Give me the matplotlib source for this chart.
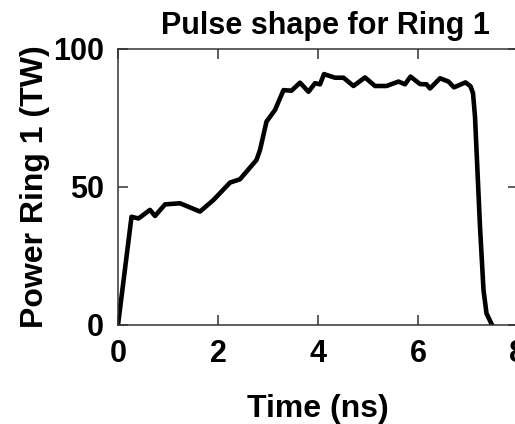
import matplotlib
matplotlib.use("Agg")
import matplotlib.pyplot as plt

plt.rcParams["font.family"] = ["Liberation Sans", "DejaVu Sans"]
plt.rcParams["font.weight"] = "bold"

# ── Pulse data ────────────────────────────────────────
time_ns = [0.0, 0.27, 0.41, 0.64, 0.74, 0.94, 1.24, 1.64, 1.91, 2.24, 2.44,
           2.77, 2.84, 2.97, 3.14, 3.31, 3.47, 3.64, 3.81, 3.94, 4.04, 4.12,
           4.34, 4.51, 4.71, 4.94, 5.14, 5.37, 5.61, 5.74, 5.85, 6.04, 6.17,
           6.24, 6.44, 6.61, 6.72, 6.95, 7.05, 7.1, 7.14, 7.24, 7.31, 7.37, 7.47]
power_tw = [0.0, 39.2, 38.6, 41.7, 39.5, 43.7, 44.1, 41.1, 45.3, 51.6, 52.8,
            59.8, 63.4, 73.7, 77.9, 85.1, 84.9, 87.8, 84.5, 87.6, 87.2, 90.9,
            89.6, 89.6, 86.6, 89.7, 86.6, 86.6, 88.2, 87.2, 90.0, 87.3, 87.2,
            85.7, 89.4, 88.2, 86.1, 87.9, 86.5, 84.0, 75.5, 35.6, 12.7, 4.2, 0.4]

x_ticks = [0, 2, 4, 6, 8]
y_ticks = [0, 50, 100]

fig = plt.figure(figsize=(5.15, 4.24), dpi=100)
ax = fig.add_axes([118 / 515, 99 / 424, 400 / 515, 276 / 424])

ax.plot(time_ns, power_tw, color="black", lw=3.3, solid_joinstyle="round")

ax.set_xlim(0, 8)
ax.set_ylim(0, 100)
ax.set_xticks(x_ticks)
ax.set_yticks(y_ticks)
ax.tick_params(direction="in", length=7, width=1.1, color="#333333",
               top=True, right=True, labelsize=22, pad=10)
for lab in ax.get_xticklabels() + ax.get_yticklabels():
    lab.set_fontweight("bold")
for sp in ax.spines.values():
    sp.set_linewidth(1.1)
    sp.set_color("#333333")

ax.set_title("Pulse shape for Ring 1", fontsize=22, fontweight="bold",
             x=0.5175, pad=11)
ax.set_xlabel("Time (ns)", fontsize=23, fontweight="bold")
ax.set_ylabel("Power Ring 1 (TW)", fontsize=23, fontweight="bold")
ax.xaxis.set_label_coords(0.5, -0.25)
ax.yaxis.set_label_coords(-0.17, 0.5)

fig.savefig("out.png", dpi=100)
